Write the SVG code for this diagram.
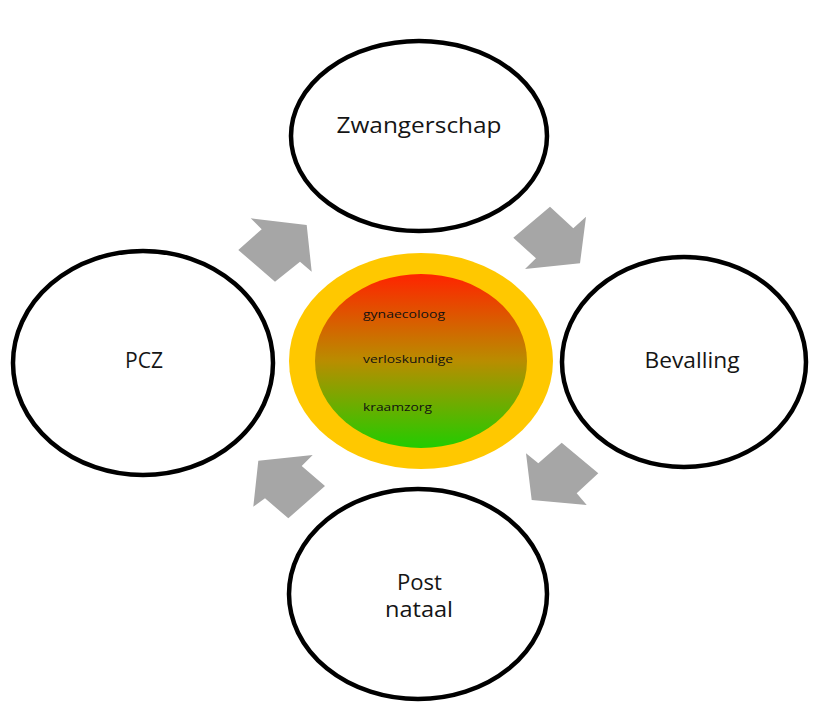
<svg xmlns="http://www.w3.org/2000/svg" width="814" height="707" viewBox="0 0 814 707">
<defs>
<linearGradient id="g" x1="0" y1="0" x2="0" y2="1">
<stop offset="0" stop-color="#ff2400"/>
<stop offset="0.5" stop-color="#b98d00"/>
<stop offset="1" stop-color="#22cc00"/>
</linearGradient>
</defs>
<style>
.c{fill:#fff;stroke:#000;stroke-width:4.5}
.t{font-family:"Open Sans","Liberation Sans",sans-serif;fill:#151515;text-anchor:middle;font-size:22px}
.s{font-family:"Open Sans","Liberation Sans",sans-serif;fill:#111;font-size:11.5px}
.a{fill:#a6a6a6}
</style>
<rect width="814" height="707" fill="#fff"/>
<g id="connectors">
<polygon class="a" points="250.7,218.3 306.7,225 311.7,271.7 300,261.7 275,281.7 238.3,250 261.7,229.3"/>
<polygon class="a" points="550,206.7 573.3,228.3 586,216.7 580,263.3 525,269 536,258.3 513.3,237.7"/>
<polygon class="a" points="526,453.3 538.3,463.3 561.7,442.7 598.3,473.3 576.7,493.3 586.7,505 531.7,500"/>
<polygon class="a" points="258.3,460.7 312.7,455 301.7,466 325,486 288.3,518.3 265,498.3 253.3,506.7"/>
</g>
<g id="zwangerschap">
<ellipse class="c" cx="419" cy="136" rx="128" ry="95"/>
<text class="t" x="419" y="133" textLength="165" lengthAdjust="spacingAndGlyphs">Zwangerschap</text>
</g>
<g id="pcz">
<ellipse class="c" cx="143" cy="363" rx="130" ry="112"/>
<text class="t" x="144" y="368" textLength="38" lengthAdjust="spacingAndGlyphs">PCZ</text>
</g>
<g id="bevalling">
<ellipse class="c" cx="684" cy="362" rx="122" ry="105"/>
<text class="t" x="692" y="368" textLength="95" lengthAdjust="spacingAndGlyphs">Bevalling</text>
</g>
<g id="postnataal">
<ellipse class="c" cx="418" cy="594" rx="129" ry="105"/>
<text class="t" x="419.5" y="590" textLength="45" lengthAdjust="spacingAndGlyphs">Post</text>
<text class="t" x="419" y="617" textLength="68" lengthAdjust="spacingAndGlyphs">nataal</text>
</g>
<g id="center">
<ellipse cx="421" cy="361" rx="132" ry="108" fill="#ffc800"/>
<ellipse cx="421" cy="361" rx="106" ry="87" fill="url(#g)"/>
<text class="s" x="363" y="318" textLength="82" lengthAdjust="spacingAndGlyphs">gynaecoloog</text>
<text class="s" x="363" y="363" textLength="90" lengthAdjust="spacingAndGlyphs">verloskundige</text>
<text class="s" x="363" y="411" textLength="69" lengthAdjust="spacingAndGlyphs">kraamzorg</text>
</g>
</svg>
